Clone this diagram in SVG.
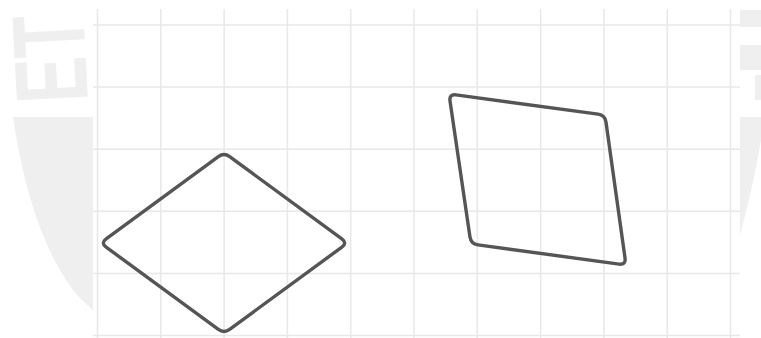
<svg xmlns="http://www.w3.org/2000/svg" width="761" height="338" viewBox="0 0 761 338">
  <style>
    .wm { fill: #efefef; }
    .grid line { stroke: #e8e8e8; stroke-width: 1.5; }
    .shape { fill: none; stroke: #555555; stroke-width: 3.4; stroke-linejoin: round; }
  </style>
  <rect x="0" y="0" width="761" height="338" fill="#ffffff"/>
  <g id="watermark">
    <text class="wm" transform="translate(88,101) rotate(-93)" font-family="Liberation Sans, Arial, sans-serif" font-weight="700" font-size="103" textLength="88" lengthAdjust="spacingAndGlyphs">ET</text>
    <path class="wm" d="M13,117 L93,117 L93,310 C60,285 28,220 13,117 Z"/>
    <path class="wm" d="M740,117 L761,117 L761,140 C755,175 748,205 740,235 Z"/>
    <rect class="wm" x="740" y="10" width="21" height="17"/>
    <rect class="wm" x="740" y="45" width="21" height="25"/>
    <rect class="wm" x="755" y="75" width="6" height="25"/>
  </g>
  <rect x="93" y="0" width="647" height="338" fill="#ffffff"/>
  <g class="grid" id="grid">
    <line x1="97.5" y1="9" x2="97.5" y2="338"/>
    <line x1="160.8" y1="9" x2="160.8" y2="338"/>
    <line x1="224.1" y1="9" x2="224.1" y2="338"/>
    <line x1="287.4" y1="9" x2="287.4" y2="338"/>
    <line x1="350.7" y1="9" x2="350.7" y2="338"/>
    <line x1="414" y1="9" x2="414" y2="338"/>
    <line x1="477.3" y1="9" x2="477.3" y2="338"/>
    <line x1="540.6" y1="9" x2="540.6" y2="338"/>
    <line x1="603.9" y1="9" x2="603.9" y2="338"/>
    <line x1="667.2" y1="9" x2="667.2" y2="338"/>
    <line x1="730.5" y1="9" x2="730.5" y2="338"/>
    <line x1="93" y1="25" x2="740" y2="25"/>
    <line x1="93" y1="87.1" x2="740" y2="87.1"/>
    <line x1="93" y1="149.2" x2="740" y2="149.2"/>
    <line x1="93" y1="211.3" x2="740" y2="211.3"/>
    <line x1="93" y1="273.4" x2="740" y2="273.4"/>
    <line x1="93" y1="335.5" x2="740" y2="335.5"/>
  </g>
  <g id="rhombus">
    <path class="shape" d="M218.35,156.64 Q224,152.5 229.65,156.64 L341.85,238.86 Q347.5,243 341.85,247.14 L229.65,329.36 Q224,333.5 218.35,329.36 L106.15,247.14 Q100.5,243 106.15,238.86 Z"/>
  </g>
  <g id="parallelogram">
    <path class="shape" d="M450.02,100.93 Q449,94 455.94,94.93 L598.06,114.07 Q605,115 605.97,121.93 L625.03,258.07 Q626,265 619.06,264.07 L477.94,244.93 Q471,244 469.98,237.07 Z"/>
  </g>
  <g id="connectors"/>
</svg>
